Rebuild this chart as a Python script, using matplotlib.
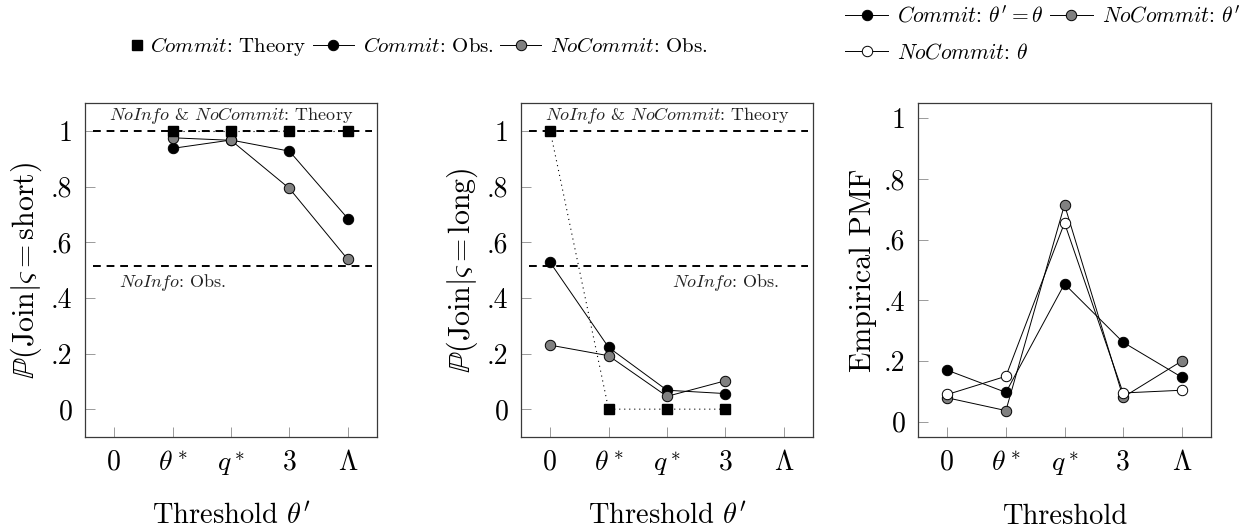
"""
plot.py
Three-panel threshold chart: join probability by signal and empirical PMF.
"""

import numpy as np
import matplotlib
matplotlib.use("Agg")
import matplotlib.pyplot as plt
from matplotlib.lines import Line2D
from matplotlib.legend_handler import HandlerLine2D

plt.rcParams["font.family"] = "serif"
plt.rcParams["font.serif"] = ["cmr10", "DejaVu Serif"]
plt.rcParams["mathtext.fontset"] = "cm"
plt.rcParams["axes.unicode_minus"] = False
plt.rcParams["axes.formatter.use_mathtext"] = True

# x categories shared by all panels
x_labels = ["0", r"$\theta^*$", r"$q^*$", "3", r"$\Lambda$"]
y_ticks = [0, 0.2, 0.4, 0.6, 0.8, 1.0]
y_tick_labels = ["0", ".2", ".4", ".6", ".8", "1"]

# panel 1: P(Join | short)
short_theory_x = [1, 2, 3, 4]
short_theory = [1.0, 1.0, 1.0, 1.0]
short_commit_x = [1, 2, 3, 4]
short_commit = [0.937, 0.967, 0.927, 0.685]
short_nocommit_x = [1, 2, 3, 4]
short_nocommit = [0.975, 0.966, 0.793, 0.538]

# panel 2: P(Join | long)
long_theory_x = [0, 1, 2, 3]
long_theory = [1.0, 0.0, 0.0, 0.0]
long_commit_x = [0, 1, 2, 3]
long_commit = [0.527, 0.222, 0.068, 0.056]
long_nocommit_x = [0, 1, 2, 3]
long_nocommit = [0.230, 0.192, 0.046, 0.102]

# reference levels
theory_level = 1.0
noinfo_obs = 0.513

# panel 3: empirical PMF of thresholds
pmf_x = [0, 1, 2, 3, 4]
pmf_commit = [0.170, 0.097, 0.454, 0.262, 0.147]
pmf_nocommit_prime = [0.079, 0.037, 0.715, 0.081, 0.200]
pmf_nocommit_theta = [0.090, 0.150, 0.655, 0.095, 0.104]

GRAY = "#808080"
W, H = 1256, 529


class EndMarker(HandlerLine2D):
    # put a lone marker at the right end of the handle box
    def get_xdata(self, legend, xdescent, ydescent, width, height, fontsize):
        xd = -xdescent + width - 0.25 * fontsize
        return np.array([xd, xd]), np.array([xd])


def px_axes(fig, left, top, right, bottom):
    return fig.add_axes([left / W, 1 - bottom / H, (right - left) / W, (bottom - top) / H])


def style_axes(ax, ylim, ylabel, xlabel):
    ax.set_xlim(-0.5, 4.5)
    ax.set_ylim(*ylim)
    ax.set_xticks(range(5))
    ax.set_xticklabels(x_labels)
    ax.set_yticks(y_ticks)
    ax.set_yticklabels(y_tick_labels)
    ax.tick_params(direction="in", length=7.5, width=0.7, color="#9a9a9a",
                   labelsize=20, pad=9)
    for s in ax.spines.values():
        s.set_color("#3a3a3a")
        s.set_linewidth(0.9)
    ax.set_ylabel(ylabel, fontsize=21.5, labelpad=5)
    ax.set_xlabel(xlabel, fontsize=20.5, labelpad=18)


def obs_line(ax, x, y, face):
    ax.plot(x, y, color="black", lw=0.7, marker="o", ms=7.5, mfc=face,
            mec="black", mew=0.7, zorder=4)


def theory_line(ax, x, y):
    ax.plot(x, y, color="black", lw=0.8, ls=(0, (1, 3.5)), marker="s", ms=7.5,
            mfc="black", mec="black", zorder=5)


def ref_lines(ax, theory_x, obs_x):
    for lvl in (theory_level, noinfo_obs):
        ax.plot([-0.36, 4.42], [lvl, lvl], color="black", lw=1.4,
                dashes=(4, 3), zorder=2)
    ax.text(theory_x, 1.055, r"$\mathit{NoInfo}$ & $\mathit{NoCommit}$: Theory",
            fontsize=13, ha="center", va="center", color="#222222")
    ax.text(obs_x, 0.454, r"$\mathit{NoInfo}$: Obs.", fontsize=13,
            ha="center", va="center", color="#222222")


fig = plt.figure(figsize=(W / 100, H / 100), dpi=100)

ax1 = px_axes(fig, 85, 103, 377, 437)
ref_lines(ax1, 2.0, 1.0)
theory_line(ax1, short_theory_x, short_theory)
obs_line(ax1, short_commit_x, short_commit, "black")
obs_line(ax1, short_nocommit_x, short_nocommit, GRAY)
style_axes(ax1, (-0.1, 1.1), r"$\mathbb{P}(\mathrm{Join}|\varsigma = \mathrm{short})$",
           r"Threshold $\theta'$")

ax2 = px_axes(fig, 521, 103, 813, 437)
ref_lines(ax2, 2.0, 3.0)
theory_line(ax2, long_theory_x, long_theory)
obs_line(ax2, long_commit_x, long_commit, "black")
obs_line(ax2, long_nocommit_x, long_nocommit, GRAY)
style_axes(ax2, (-0.1, 1.1), r"$\mathbb{P}(\mathrm{Join}|\varsigma = \mathrm{long})$",
           r"Threshold $\theta'$")

ax3 = px_axes(fig, 918, 103, 1211, 437)
obs_line(ax3, pmf_x, pmf_commit, "black")
obs_line(ax3, pmf_x, pmf_nocommit_prime, GRAY)
obs_line(ax3, pmf_x, pmf_nocommit_theta, "white")
style_axes(ax3, (-0.05, 1.05), "Empirical PMF", "Threshold")


# legends
def circ(face):
    return Line2D([], [], color="black", lw=0.7, marker="o", ms=7.5, mfc=face,
                  mec="black", mew=0.7)


sq = Line2D([], [], ls="none", marker="s", ms=7, mfc="black", mec="black")
leg1 = fig.legend([sq, circ("black"), circ(GRAY)],
                  [r"$\mathit{Commit}$: Theory", r"$\mathit{Commit}$: Obs.",
                   r"$\mathit{NoCommit}$: Obs."],
                  loc="center", bbox_to_anchor=(404 / W, 1 - 47 / H), ncol=3,
                  frameon=False, fontsize=15, handlelength=2.0,
                  handletextpad=0.4, columnspacing=0.3,
                  handler_map={sq: EndMarker()})

leg2 = fig.legend([circ("black"), circ("white"), circ(GRAY)],
                  [r"$\mathit{Commit}$: $\theta' = \theta$", r"$\mathit{NoCommit}$: $\theta$",
                   r"$\mathit{NoCommit}$: $\theta'$"],
                  loc="center left", bbox_to_anchor=(826 / W, 1 - 34 / H), ncol=2,
                  frameon=False, fontsize=15.5, handlelength=2.0,
                  handletextpad=0.4, columnspacing=0.3, labelspacing=0.75)

fig.savefig("out.png", dpi=100)
